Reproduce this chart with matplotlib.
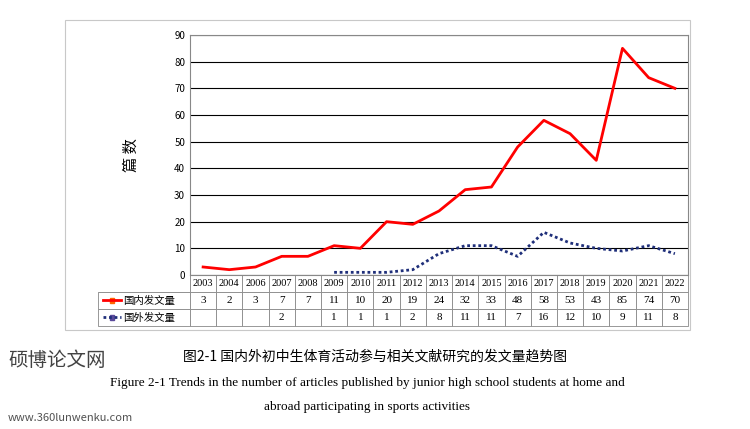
import numpy as np
import matplotlib.pyplot as plt
from matplotlib import rcParams

rcParams['font.family'] = ['Noto Sans CJK SC', 'DejaVu Sans']

years = ['2003', '2004', '2006', '2007', '2008', '2009', '2010', '2011', '2012', '2013',
         '2014', '2015', '2016', '2017', '2018', '2019', '2020', '2021', '2022']
domestic = [3, 2, 3, 7, 7, 11, 10, 20, 19, 24, 32, 33, 48, 58, 53, 43, 85, 74, 70]
foreign = [None, None, None, 2, None, 1, 1, 1, 2, 8, 11, 11, 7, 16, 12, 10, 9, 11, 8]

fig = plt.figure(figsize=(7.5, 4.29), dpi=100)
# outer frame
fig.patches.append(plt.Rectangle((65 / 750, 1 - 330 / 429), 625 / 750, 310 / 429,
                                 transform=fig.transFigure, fill=False, ec='#c8c8c8', lw=0.8))
ax = fig.add_axes([190 / 750, 1 - 275 / 429, 498 / 750, 240 / 429])
x = np.arange(len(years))
ax.plot(x, domestic, color='#ff0000', lw=2)
f = np.array([np.nan if v is None else v for v in foreign], dtype=float)
ax.plot(x, f, color='#1f2f7a', lw=2, linestyle=(0, (1, 1)))
ax.set_xlim(-0.5, len(years) - 0.5)
ax.set_ylim(0, 90)
ax.set_yticks(range(0, 91, 10))
ax.set_xticks([])
ax.yaxis.grid(True, color='black', lw=0.8)
ax.tick_params(axis='y', labelsize=7, length=0)
for s in ax.spines.values():
    s.set_color('#888888')
ax.set_ylabel('篇 数', fontsize=11, labelpad=25)

# data table (first column holds the series names)
lab_w = 92 / 498
rows = [[''] + years,
        ['国内发文量'] + [str(v) for v in domestic],
        ['国外发文量'] + ['' if v is None else str(v) for v in foreign]]
col_w = [lab_w] + [1 / len(years)] * len(years)
tab = ax.table(cellText=rows, colWidths=col_w, cellLoc='center',
               bbox=[-lab_w, -51 / 240, 1 + lab_w, 51 / 240])
tab.auto_set_font_size(False)
for (r, c), cell in tab.get_celld().items():
    cell.set_edgecolor('#888888')
    cell.set_linewidth(0.6)
    cell.get_text().set_fontsize(7.5 if r == 0 else 8)
    cell.get_text().set_family('Liberation Serif')
    if c == 0:
        cell.get_text().set_family('Noto Sans CJK SC')
        cell.get_text().set_fontsize(7.5)
        cell.set_text_props(ha='left')
        cell.PAD = 0.27
        if r == 0:
            cell.visible_edges = 'BR'
# legend keys in label column
fig.lines.append(plt.Line2D([103 / 750, 121 / 750], [1 - 300 / 429] * 2, transform=fig.transFigure,
                            color='#ff0000', lw=2))
fig.lines.append(plt.Line2D([103 / 750, 121 / 750], [1 - 317 / 429] * 2, transform=fig.transFigure,
                            color='#1f2f7a', lw=2, linestyle=(0, (1, 1))))
fig.patches.append(plt.Rectangle((109.5 / 750, 1 - 302.5 / 429), 5 / 750, 5 / 429,
                                 transform=fig.transFigure, color='#ff6600'))
fig.patches.append(plt.Rectangle((109.5 / 750, 1 - 319.5 / 429), 5 / 750, 5 / 429,
                                 transform=fig.transFigure, color='#5a4a9a'))

fig.text(0.50, 1 - 357 / 429, '图2-1 国内外初中生体育活动参与相关文献研究的发文量趋势图',
         ha='center', va='center', fontsize=10)
fig.text(0.49, 1 - 383 / 429, 'Figure 2-1 Trends in the number of articles published by junior high school students at home and',
         ha='center', va='center', fontsize=9.5, family='Liberation Serif')
fig.text(0.49, 1 - 407 / 429, 'abroad participating in sports activities',
         ha='center', va='center', fontsize=9.5, family='Liberation Serif')
fig.text(8 / 750, 1 - 360 / 429, '硕博论文网', fontsize=14, color='#222222', va='center', alpha=0.85)
fig.text(8 / 750, 1 - 418 / 429, 'www.360lunwenku.com', fontsize=8, color='#333333', va='center', alpha=0.85)

fig.savefig('out.png', dpi=100)
